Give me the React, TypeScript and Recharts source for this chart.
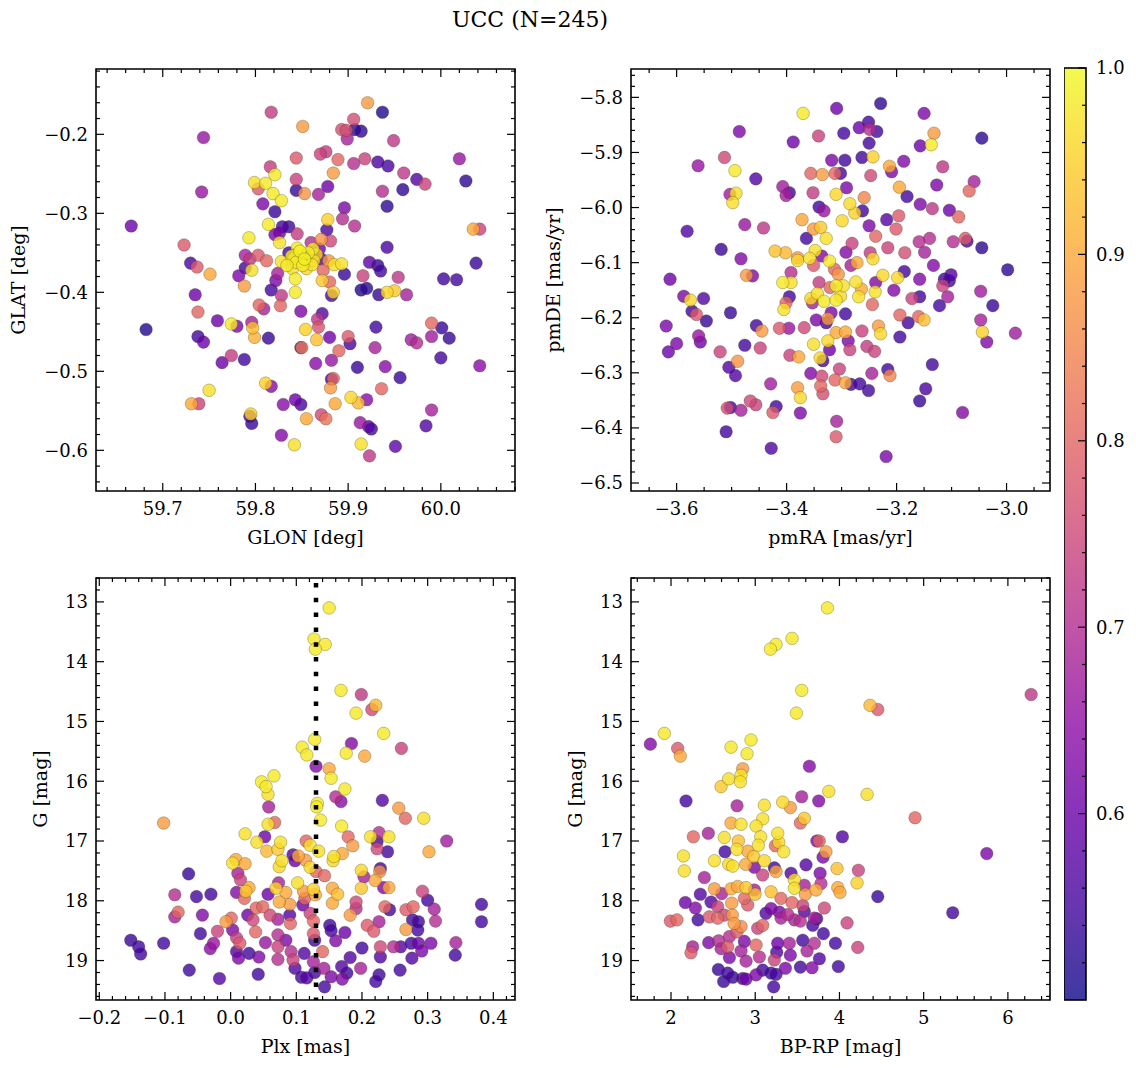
import React from 'react';
import {
  ScatterChart,
  Scatter,
  ComposedChart,
  XAxis,
  YAxis,
  ReferenceArea,
} from 'recharts';

const FONT = "'DejaVu Serif', serif";
const TICK_FS = 18;
const LABEL_FS = 19;

// GLON [deg], GLAT [deg], probability
const glonGlat = [
  [59.921,-0.160,.88],[59.937,-0.172,.52],[59.817,-0.172,.73],[59.851,-0.190,.88],[59.906,-0.181,.76],
  [59.893,-0.194,.76],[59.898,-0.195,.76],[59.907,-0.194,.53],[59.914,-0.196,.53],[59.899,-0.206,.68],
  [59.744,-0.204,.66],[59.949,-0.208,.72],[59.870,-0.225,.74],[59.876,-0.222,.73],[59.844,-0.230,.78],
  [59.889,-0.232,.80],[59.918,-0.231,.74],[59.906,-0.237,.70],[59.932,-0.235,.56],[59.943,-0.240,.56],
  [60.020,-0.231,.66],[59.816,-0.241,.73],[59.821,-0.251,.98],[59.884,-0.249,.88],[59.960,-0.249,.72],
  [59.844,-0.257,.74],[59.799,-0.261,.97],[59.811,-0.262,.98],[59.803,-0.269,.78],[59.974,-0.257,.57],
  [59.983,-0.263,.74],[60.027,-0.259,.53],[59.742,-0.273,.66],[59.844,-0.271,.54],[59.853,-0.275,.87],
  [59.868,-0.276,.68],[59.878,-0.266,.60],[59.819,-0.275,.98],[59.828,-0.284,.98],[59.937,-0.272,.70],
  [59.959,-0.270,.53],[59.808,-0.288,.62],[59.896,-0.293,.62],[59.942,-0.291,.53],[59.821,-0.298,.54],
  [59.878,-0.308,.95],[59.894,-0.307,.70],[59.666,-0.316,.60],[59.907,-0.316,.70],[59.814,-0.314,.98],
  [59.829,-0.317,.56],[59.836,-0.317,.55],[59.877,-0.321,.56],[60.035,-0.320,.90],[60.042,-0.320,.74],
  [59.845,-0.326,.73],[59.821,-0.327,.62],[59.826,-0.325,.60],[59.826,-0.337,.97],[59.793,-0.331,.98],
  [59.871,-0.333,.87],[59.881,-0.335,.75],[59.723,-0.340,.78],[59.942,-0.343,.56],
  [59.845,-0.344,.98],[59.862,-0.345,.98],[59.860,-0.337,.70],[59.839,-0.354,.98],[59.849,-0.354,.97],
  [59.858,-0.354,.60],[59.844,-0.362,.98],[59.828,-0.361,.97],[59.851,-0.366,.98],[59.863,-0.360,.97],
  [59.871,-0.358,.58],[59.836,-0.350,.55],[59.855,-0.370,.96],[59.840,-0.370,.97],
  [59.848,-0.348,.99],[59.857,-0.350,.98],[59.853,-0.358,.99],[59.866,-0.352,.96],[59.842,-0.357,.97],
  [59.834,-0.366,.98],[59.861,-0.365,.97],[59.869,-0.345,.60],
  [59.789,-0.353,.68],[59.803,-0.353,.78],[59.794,-0.358,.72],[59.812,-0.360,.80],[59.730,-0.363,.56],
  [59.737,-0.368,.78],[59.751,-0.377,.90],[59.789,-0.369,.55],[59.796,-0.372,.97],[59.879,-0.360,.88],
  [59.885,-0.365,.97],[59.893,-0.364,.97],[59.923,-0.362,.58],[59.932,-0.366,.54],[59.935,-0.373,.55],
  [60.038,-0.363,.54],[59.782,-0.379,.62],[59.824,-0.376,.68],[59.873,-0.372,.80],[59.896,-0.377,.54],
  [59.916,-0.379,.74],[59.954,-0.381,.72],[60.003,-0.383,.55],[60.017,-0.384,.55],
  [59.822,-0.385,.62],[59.843,-0.383,.98],[59.872,-0.385,.94],[59.880,-0.387,.80],[59.735,-0.403,.60],
  [59.788,-0.392,.88],[59.817,-0.397,.55],[59.828,-0.404,.72],[59.827,-0.417,.80],[59.843,-0.400,.98],
  [59.882,-0.404,.55],[59.884,-0.400,.95],[59.914,-0.397,.52],[59.920,-0.395,.53],[59.933,-0.403,.54],
  [59.942,-0.400,.96],[59.950,-0.398,.94],[59.963,-0.403,.68],[59.682,-0.447,.52],[59.738,-0.425,.80],
  [59.804,-0.416,.80],[59.809,-0.421,.68],[59.849,-0.424,.62],[59.872,-0.427,.57],[59.867,-0.434,.72],
  [59.868,-0.444,.77],[59.759,-0.436,.60],[59.774,-0.440,.98],[59.780,-0.443,.62],[59.796,-0.438,.68],
  [59.797,-0.445,.93],[59.799,-0.457,.91],[59.814,-0.458,.54],[59.854,-0.447,.95],[59.866,-0.460,.93],
  [59.880,-0.457,.60],[59.900,-0.456,.78],[59.902,-0.465,.56],[59.930,-0.444,.55],[59.738,-0.456,.55],
  [59.744,-0.463,.60],[59.849,-0.470,.55],[59.850,-0.470,.83],[59.890,-0.474,.80],[59.929,-0.470,.68],
  [59.968,-0.460,.67],[59.974,-0.464,.70],[59.990,-0.439,.80],[59.990,-0.456,.67],[60.001,-0.445,.54],
  [60.009,-0.458,.54],[60.000,-0.483,.55],[59.764,-0.489,.60],[59.774,-0.480,.73],[59.788,-0.485,.55],
  [59.865,-0.490,.64],[59.882,-0.486,.66],[59.910,-0.495,.54],[59.940,-0.494,.64],[60.042,-0.493,.64],
  [59.956,-0.508,.54],[59.882,-0.510,.55],[59.884,-0.509,.80],[59.881,-0.521,.88],[59.936,-0.522,.80],
  [59.750,-0.524,.97],[59.811,-0.515,.95],[59.817,-0.519,.64],[59.731,-0.541,.90],[59.739,-0.541,.74],
  [59.830,-0.542,.64],[59.843,-0.536,.60],[59.849,-0.542,.56],[59.886,-0.541,.90],[59.903,-0.533,.96],
  [59.911,-0.540,.92],[59.920,-0.536,.64],[59.990,-0.549,.68],[59.794,-0.557,.55],[59.795,-0.554,.95],
  [59.796,-0.566,.54],[59.855,-0.560,.90],[59.871,-0.555,.75],[59.876,-0.560,.82],[59.913,-0.565,.66],
  [59.922,-0.570,.58],[59.925,-0.573,.55],[59.984,-0.569,.57],[59.828,-0.581,.63],[59.842,-0.593,.97],
  [59.914,-0.592,.97],[59.951,-0.595,.58],[59.923,-0.607,.72],
];

// pmRA [mas/yr], pmDE [mas/yr], probability
const pmRaDe = [
  [-3.229,-5.811,.53],[-3.309,-5.820,.60],[-3.370,-5.829,.98],[-3.150,-5.829,.62],
  [-3.251,-5.845,.55],[-3.249,-5.858,.70],[-3.236,-5.862,.55],[-3.268,-5.855,.60],
  [-3.486,-5.862,.62],[-3.342,-5.870,.74],[-3.296,-5.865,.55],[-3.132,-5.865,.88],[-3.137,-5.886,.98],
  [-3.045,-5.874,.53],[-3.388,-5.881,.60],[-3.250,-5.883,.55],[-3.157,-5.888,.60],[-3.513,-5.909,.75],
  [-3.561,-5.924,.66],[-3.318,-5.914,.62],[-3.294,-5.914,.55],[-3.263,-5.909,.55],[-3.243,-5.908,.95],
  [-3.213,-5.925,.90],[-3.209,-5.935,.62],[-3.187,-5.916,.63],[-3.116,-5.926,.72],[-3.494,-5.933,.98],
  [-3.456,-5.948,.57],[-3.356,-5.938,.80],[-3.335,-5.940,.88],[-3.312,-5.938,.80],[-3.302,-5.938,.55],
  [-3.247,-5.942,.75],[-3.059,-5.953,.68],[-3.068,-5.970,.80],[-3.127,-5.959,.62],[-3.407,-5.962,.67],
  [-3.401,-5.978,.68],[-3.395,-5.973,.55],[-3.492,-5.974,.97],[-3.503,-5.976,.67],[-3.498,-5.991,.97],
  [-3.352,-5.973,.73],[-3.310,-5.976,.96],[-3.291,-5.964,.62],[-3.259,-5.982,.85],[-3.195,-5.963,.90],
  [-3.181,-5.980,.55],[-3.157,-5.994,.62],[-3.135,-6.002,.72],[-3.104,-6.005,.60],[-3.087,-6.017,.80],
  [-3.341,-5.999,.55],[-3.332,-6.006,.66],[-3.285,-5.993,.96],[-3.276,-6.010,.95],[-3.262,-6.006,.55],
  [-3.299,-6.024,.96],[-3.250,-6.033,.62],[-3.218,-6.022,.57],[-3.196,-6.015,.78],[-3.201,-6.039,.78],
  [-3.372,-6.022,.90],[-3.351,-6.039,.88],[-3.338,-6.036,.94],[-3.328,-6.056,.97],[-3.364,-6.056,.55],
  [-3.238,-6.052,.80],[-3.581,-6.043,.57],[-3.476,-6.031,.66],[-3.442,-6.037,.72],[-3.519,-6.076,.54],
  [-3.483,-6.093,.63],[-3.421,-6.079,.93],[-3.402,-6.082,.92],[-3.380,-6.091,.88],[-3.380,-6.096,.96],
  [-3.348,-6.078,.97],[-3.358,-6.092,.97],[-3.336,-6.088,.63],[-3.322,-6.097,.98],[-3.351,-6.105,.78],
  [-3.292,-6.081,.63],[-3.281,-6.065,.74],[-3.283,-6.105,.68],[-3.272,-6.100,.90],[-3.248,-6.082,.73],
  [-3.243,-6.093,.96],[-3.216,-6.073,.74],[-3.185,-6.082,.76],[-3.159,-6.062,.70],[-3.149,-6.081,.68],
  [-3.140,-6.056,.70],[-3.097,-6.062,.70],[-3.075,-6.056,.78],[-3.072,-6.061,.55],[-3.045,-6.073,.53],
  [-3.133,-6.105,.63],[-2.998,-6.113,.53],[-3.186,-6.116,.55],[-3.101,-6.122,.57],[-3.612,-6.130,.60],
  [-3.473,-6.123,.88],[-3.462,-6.124,.63],[-3.392,-6.118,.70],[-3.306,-6.121,.87],[-3.313,-6.112,.80],
  [-3.225,-6.123,.96],[-3.198,-6.127,.96],[-3.158,-6.130,.63],[-3.113,-6.130,.55],
  [-3.407,-6.136,.98],[-3.392,-6.136,.97],[-3.341,-6.136,.73],[-3.321,-6.145,.80],[-3.310,-6.142,.98],
  [-3.297,-6.142,.97],[-3.274,-6.135,.97],[-3.238,-6.136,.63],[-3.116,-6.142,.74],[-3.104,-6.133,.55],
  [-3.587,-6.161,.62],[-3.575,-6.168,.96],[-3.551,-6.165,.57],[-3.572,-6.188,.55],[-3.564,-6.194,.78],
  [-3.546,-6.206,.54],[-3.619,-6.215,.62],[-3.600,-6.247,.62],[-3.615,-6.262,.60],[-3.560,-6.233,.66],
  [-3.557,-6.244,.60],[-3.502,-6.191,.54],[-3.521,-6.262,.74],[-3.505,-6.290,.57],[-3.493,-6.305,.57],
  [-3.489,-6.279,.87],[-3.476,-6.250,.55],[-3.448,-6.255,.74],[-3.455,-6.214,.55],[-3.445,-6.224,.88],
  [-3.413,-6.219,.78],[-3.396,-6.219,.66],[-3.368,-6.218,.75],[-3.394,-6.268,.74],[-3.378,-6.271,.90],
  [-3.405,-6.185,.97],[-3.401,-6.173,.80],[-3.395,-6.162,.55],[-3.356,-6.165,.96],[-3.344,-6.156,.97],
  [-3.332,-6.170,.98],[-3.310,-6.168,.98],[-3.302,-6.161,.96],[-3.353,-6.173,.68],[-3.319,-6.191,.62],
  [-3.325,-6.202,.88],[-3.328,-6.209,.55],[-3.346,-6.204,.62],[-3.293,-6.193,.55],[-3.269,-6.162,.97],
  [-3.264,-6.148,.90],[-3.239,-6.153,.97],[-3.244,-6.176,.80],[-3.205,-6.150,.63],[-3.172,-6.165,.74],
  [-3.158,-6.162,.55],[-3.122,-6.178,.55],[-3.107,-6.162,.68],[-3.194,-6.195,.80],[-3.179,-6.209,.55],
  [-3.160,-6.198,.80],[-3.150,-6.204,.93],[-3.310,-6.227,.90],[-3.293,-6.226,.90],[-3.288,-6.242,.62],
  [-3.285,-6.258,.74],[-3.325,-6.242,.96],[-3.322,-6.258,.60],[-3.351,-6.248,.97],[-3.339,-6.273,.96],
  [-3.334,-6.278,.55],[-3.263,-6.224,.74],[-3.254,-6.252,.73],[-3.240,-6.261,.74],[-3.233,-6.215,.88],
  [-3.229,-6.229,.96],[-3.194,-6.235,.55],[-3.356,-6.301,.63],[-3.336,-6.306,.75],[-3.304,-6.293,.74],
  [-3.312,-6.313,.80],[-3.293,-6.318,.90],[-3.283,-6.321,.55],[-3.267,-6.320,.55],[-3.251,-6.332,.55],
  [-3.245,-6.301,.68],[-3.216,-6.294,.55],[-3.212,-6.305,.85],[-3.135,-6.285,.55],[-3.047,-6.204,.68],
  [-3.044,-6.226,.95],[-3.036,-6.244,.63],[-3.025,-6.178,.54],[-3.047,-6.152,.67],[-2.984,-6.228,.67],
  [-3.147,-6.329,.56],[-3.158,-6.351,.54],[-3.429,-6.320,.67],[-3.380,-6.327,.88],[-3.375,-6.345,.96],
  [-3.338,-6.324,.80],[-3.334,-6.338,.76],[-3.502,-6.363,.55],[-3.508,-6.364,.76],[-3.483,-6.368,.68],
  [-3.466,-6.351,.75],[-3.456,-6.358,.74],[-3.419,-6.361,.55],[-3.425,-6.372,.78],[-3.375,-6.373,.62],
  [-3.510,-6.407,.55],[-3.309,-6.388,.68],[-3.310,-6.416,.78],[-3.428,-6.437,.57],[-3.219,-6.452,.62],
  [-3.080,-6.372,.63],
];

// Plx [mas], G [mag], probability
const plxG = [
  [0.150,13.10,.98],[0.127,13.62,.98],[0.144,13.71,.98],[0.129,13.79,.98],[0.168,14.48,.98],
  [0.199,14.55,.72],[0.221,14.73,.92],[0.215,14.80,.75],[0.191,14.86,.98],[0.233,15.20,.98],
  [0.128,15.30,.98],[0.109,15.43,.98],[0.116,15.56,.98],[0.184,15.37,.63],[0.260,15.45,.74],
  [0.176,15.53,.98],[0.204,15.58,.90],[0.130,15.75,.63],[0.150,15.79,.90],[0.153,15.95,.98],
  [0.066,15.91,.98],[0.047,16.01,.98],[0.054,16.09,.98],[0.174,16.13,.98],
  [0.057,16.22,.97],[0.160,16.26,.70],[0.168,16.34,.64],[0.231,16.32,.57],[0.058,16.43,.68],
  [0.132,16.37,.98],[0.131,16.43,.98],[0.137,16.65,.98],[0.256,16.45,.88],[0.266,16.62,.80],
  [0.294,16.62,.97],[-0.102,16.70,.88],[0.057,16.72,.97],[0.067,16.69,.80],[0.169,16.75,.98],
  [0.022,16.88,.97],[0.040,17.02,.97],[0.052,16.93,.60],[0.076,17.02,.97],[0.072,17.14,.94],
  [0.055,17.17,.92],[0.115,17.00,.80],[0.121,17.07,.97],[0.134,17.17,.97],[0.179,16.93,.80],
  [0.186,17.08,.88],[0.170,17.21,.90],[0.157,17.26,.97],[0.156,17.33,.96],[0.213,16.93,.97],
  [0.226,16.86,.70],[0.223,17.01,.55],[0.223,17.13,.75],[0.241,16.93,.97],[0.239,17.18,.55],
  [0.302,17.18,.90],[0.329,17.00,.67],[0.095,17.23,.57],[0.103,17.25,.90],[0.098,17.33,.60],
  [0.114,17.32,.88],[0.121,17.44,.96],[0.003,17.37,.97],[0.008,17.31,.90],[0.022,17.38,.90],
  [0.078,17.33,.97],[0.074,17.43,.96],[0.011,17.54,.68],[0.015,17.65,.74],[-0.064,17.55,.54],
  [0.130,17.51,.80],[0.143,17.58,.80],[0.199,17.49,.96],[0.203,17.60,.68],[0.228,17.46,.55],
  [0.227,17.51,.87],[0.220,17.66,.90],[0.233,17.78,.63],[0.241,17.78,.90],[0.199,17.79,.94],
  [0.102,17.70,.97],[0.073,17.70,.68],[0.069,17.79,.95],[0.028,17.78,.90],[0.023,17.84,.94],
  [0.009,17.86,.63],[0.057,17.89,.60],[0.084,17.86,.90],[0.111,17.84,.88],[0.126,17.81,.95],
  [0.129,17.90,.90],[0.155,17.79,.90],[0.163,17.89,.93],[0.155,18.04,.90],[-0.085,17.90,.70],
  [-0.052,17.93,.55],[-0.030,17.89,.55],[0.021,17.96,.80],[0.074,18.02,.90],[0.090,18.06,.88],
  [0.292,17.84,.74],[0.300,17.99,.55],[0.310,18.14,.68],[0.312,18.34,.70],[0.382,18.06,.55],
  [0.382,18.35,.55],[0.191,18.02,.75],[0.191,18.13,.70],[0.182,18.24,.88],[0.235,18.10,.80],
  [0.242,18.15,.55],[0.267,18.15,.78],[0.278,18.10,.80],[0.277,18.32,.55],[0.286,18.35,.55],
  [0.267,18.48,.88],[0.285,18.49,.55],[0.110,18.07,.60],[0.113,17.96,.80],[0.039,18.12,.80],
  [0.049,18.10,.80],[0.060,18.24,.75],[0.072,18.31,.68],[0.090,18.24,.57],[0.091,18.38,.80],
  [0.026,18.24,.60],[0.034,18.32,.75],[-0.007,18.35,.88],[0.001,18.29,.80],[0.121,18.21,.74],
  [0.126,18.34,.80],[0.151,18.41,.55],[0.153,18.50,.55],[-0.043,18.24,.63],[-0.085,18.27,.68],
  [-0.080,18.19,.80],[-0.046,18.55,.55],[-0.020,18.51,.74],[0.003,18.49,.62],[0.038,18.52,.80],
  [0.174,18.53,.60],[0.208,18.41,.78],[0.218,18.51,.78],[0.226,18.35,.68],[-0.152,18.66,.54],
  [-0.140,18.77,.55],[-0.137,18.89,.55],[-0.102,18.71,.55],[-0.026,18.71,.66],[-0.031,18.80,.64],
  [0.009,18.62,.73],[0.014,18.71,.78],[0.009,18.85,.57],[0.012,18.96,.62],[0.028,18.88,.55],
  [0.043,18.94,.63],[0.053,18.70,.66],[0.072,18.57,.70],[0.072,18.77,.74],[0.072,18.98,.70],
  [0.084,18.66,.62],[0.092,18.85,.70],[0.095,18.99,.74],[0.112,18.88,.57],[0.126,19.02,.68],
  [0.126,18.55,.78],[0.128,18.66,.55],[0.140,18.85,.80],[0.142,19.13,.68],[0.160,18.67,.63],
  [0.169,19.10,.57],[0.177,19.21,.55],[0.170,19.31,.63],[0.153,19.27,.62],[0.182,18.95,.57],
  [0.198,19.13,.68],[0.200,18.79,.55],[0.228,18.77,.75],[0.228,18.94,.57],[0.226,19.24,.55],
  [0.221,19.35,.55],[0.248,18.77,.70],[0.259,18.77,.57],[0.275,18.71,.55],[0.286,18.71,.60],
  [0.291,18.84,.62],[0.305,18.71,.62],[0.276,18.96,.57],[0.258,19.16,.55],[0.342,18.91,.55],
  [0.343,18.70,.68],[-0.063,19.16,.55],[-0.017,19.30,.57],[0.042,19.23,.55],[0.098,19.13,.57],
  [0.108,19.28,.55],[0.116,19.29,.57],[0.128,19.20,.55],[0.143,19.44,.55],
];

// BP-RP [mag], G [mag], probability
const colorG = [
  [3.857,13.10,.98],[3.437,13.61,.98],[3.247,13.71,.98],[3.180,13.79,.98],[3.552,14.48,.98],
  [6.276,14.55,.72],[4.363,14.73,.92],[4.455,14.80,.78],[3.489,14.86,.98],[1.921,15.20,.98],
  [1.755,15.38,.63],[2.079,15.45,.78],[2.111,15.58,.90],[2.713,15.43,.98],[2.950,15.31,.98],
  [2.903,15.54,.98],[3.643,15.75,.63],[2.851,15.79,.88],[2.831,15.90,.97],[2.685,15.96,.97],
  [2.823,16.01,.97],[2.594,16.09,.94],
  [2.178,16.33,.55],[2.784,16.41,.68],[3.108,16.40,.97],[3.326,16.35,.96],[3.417,16.44,.88],
  [3.552,16.26,.68],[3.754,16.33,.63],[3.873,16.17,.97],[4.328,16.22,.97],
  [2.713,16.70,.90],[2.831,16.72,.97],[3.089,16.63,.97],[3.010,16.75,.97],[3.536,16.70,.80],
  [3.583,16.62,.94],[4.898,16.61,.80],[2.265,16.93,.80],[2.443,16.87,.68],[2.633,16.94,.97],
  [2.800,17.00,.93],[2.780,17.14,.97],[2.641,17.18,.55],[3.065,16.93,.97],[3.037,17.07,.97],
  [2.911,17.17,.90],[2.982,17.26,.94],[3.108,17.33,.96],[3.267,16.87,.97],[3.279,17.02,.96],
  [3.338,17.18,.97],[3.239,17.08,.80],[3.732,17.00,.63],[3.760,17.00,.80],[3.840,17.18,.88],
  [3.805,17.27,.62],[4.035,16.93,.57],[2.147,17.25,.97],[2.158,17.50,.97],[2.515,17.33,.97],
  [2.685,17.39,.96],[2.733,17.42,.97],[2.887,17.39,.90],[2.990,17.44,.62],[3.089,17.57,.74],
  [3.227,17.45,.55],[3.247,17.51,.90],[3.425,17.54,.57],[3.603,17.40,.57],[3.770,17.54,.62],
  [3.971,17.46,.93],[4.225,17.49,.74],[4.209,17.70,.95],[2.396,17.61,.68],[2.348,17.89,.57],
  [2.170,18.03,.60],[2.289,18.12,.63],[2.515,17.80,.88],[2.602,17.88,.68],[2.713,17.80,.90],
  [2.792,17.76,.90],[2.891,17.78,.94],[2.998,17.89,.93],[3.188,17.85,.93],[3.306,17.96,.80],
  [3.465,17.65,.97],[3.465,17.79,.97],[3.595,17.89,.88],[3.722,17.82,.90],[3.583,17.74,.68],
  [3.781,17.71,.70],[3.980,17.78,.90],[4.007,17.86,.90],[4.455,17.93,.54],[2.321,18.32,.55],
  [1.992,18.34,.78],[2.071,18.32,.80],[2.475,18.02,.57],[2.554,18.10,.74],[2.455,18.27,.78],
  [2.554,18.29,.80],[2.633,18.24,.75],[2.721,18.04,.88],[2.729,18.24,.88],[2.749,18.38,.88],
  [2.871,17.96,.80],[2.911,18.07,.78],[2.990,17.82,.68],[3.089,18.41,.80],[3.030,18.46,.74],
  [3.128,18.21,.57],[3.188,18.13,.62],[3.287,18.19,.62],[3.306,18.29,.68],[3.386,18.23,.70],
  [3.465,18.32,.68],[3.564,18.08,.74],[3.437,18.03,.80],[3.583,18.18,.57],[3.536,18.34,.70],
  [3.702,18.29,.68],[3.730,18.30,.55],[3.683,18.41,.55],[3.821,18.12,.75],[3.809,18.55,.55],
  [4.090,18.37,.74],[3.952,18.71,.55],[4.217,18.78,.74],[2.257,18.77,.68],[2.237,18.87,.78],
  [2.447,18.70,.62],[2.566,18.67,.70],[2.594,18.80,.68],[2.693,18.60,.70],[2.784,18.52,.78],
  [2.831,18.43,.86],[2.673,18.77,.78],[2.871,18.68,.62],[2.831,18.84,.68],[3.010,18.74,.80],
  [2.693,18.95,.62],[2.891,19.01,.68],[3.049,18.94,.70],[3.267,18.71,.60],[3.405,18.71,.68],
  [3.564,18.66,.55],[3.702,18.71,.70],[3.615,18.84,.68],[3.255,18.86,.57],[3.227,18.99,.74],
  [3.417,18.91,.62],[3.762,18.97,.57],[3.536,19.11,.55],[3.675,19.12,.63],[3.358,19.13,.62],
  [3.987,19.10,.55],[2.562,19.15,.54],[2.673,19.21,.55],[2.625,19.35,.54],[2.733,19.28,.54],
  [2.851,19.30,.57],[2.891,19.31,.60],[3.010,19.24,.62],[3.089,19.16,.55],[3.188,19.21,.55],
  [3.247,19.23,.55],[3.219,19.44,.55],[5.345,18.20,.55],[5.749,17.21,.62],
];

const glonTicks = [59.7, 59.8, 59.9, 60.0];
const glatTicks = [-0.6, -0.5, -0.4, -0.3, -0.2];
const pmraTicks = [-3.6, -3.4, -3.2, -3.0];
const pmdeTicks = [-6.5, -6.4, -6.3, -6.2, -6.1, -6.0, -5.9, -5.8];
const plxTicks = [-0.2, -0.1, 0.0, 0.1, 0.2, 0.3, 0.4];
const gTicks = [13, 14, 15, 16, 17, 18, 19];
const bprpTicks = [2, 3, 4, 5, 6];
const probTicks = [0.6, 0.7, 0.8, 0.9, 1.0];
const PLX_MEAN = 0.13;

const PLASMA = ['#0d0887', '#41049d', '#6a00a8', '#8f0da4', '#b12a90', '#cc4778',
  '#e16462', '#f2844b', '#fca636', '#fcce25', '#f0f921'];

function plasma(t: number) {
  const c = Math.min(1, Math.max(0, t)) * (PLASMA.length - 1);
  const i = Math.min(PLASMA.length - 2, Math.floor(c));
  const f = c - i;
  const a = PLASMA[i], b = PLASMA[i + 1];
  const ch = (h: string, k: number) => parseInt(h.slice(1 + 2 * k, 3 + 2 * k), 16);
  const mix = [0, 1, 2].map((k) => Math.round(ch(a, k) + (ch(b, k) - ch(a, k)) * f));
  return `rgb(${mix[0]},${mix[1]},${mix[2]})`;
}
const probColor = (p: number) => plasma((p - 0.5) / 0.5);

function tickList(step: number, lo: number, hi: number) {
  const out: number[] = [];
  const n0 = Math.ceil(lo / step - 1e-6);
  const n1 = Math.floor(hi / step + 1e-6);
  for (let i = n0; i <= n1; i++) out.push(+(i * step).toFixed(4));
  return out;
}
const isMajor = (majors: number[], v: number) => majors.some((m) => Math.abs(m - v) < 1e-6);
const fmt = (d: number) => (v: number) => (v < -1e-9 ? '\u2212' : '') + Math.abs(v).toFixed(d);

const PW = 419, PH = 422, ML = 100, MT = 12, MR = 12, MB = 70;

const txt = { fontFamily: FONT, fill: '#000' };

function Panel(props: any) {
  const { rows, left, top, xDomain, yDomain, xMajor, xStep, yMajor, yStep, xDec, yDec,
    xLabel, yLabel, yLabelX, reversed, vline } = props;
  const data = rows.map(([x, y, p]: number[]) => ({ x, y, p })).sort((a: any, b: any) => a.p - b.p);
  const xt = tickList(xStep, xDomain[0], xDomain[1]);
  const yt = tickList(yStep, yDomain[0], yDomain[1]);
  const pb = MT + PH;
  const pr = ML + PW;
  const fx = fmt(xDec);
  const fy = fmt(yDec);

  const xTick = (tp: any) => {
    const v = tp.payload.value;
    const cx = tp.x;
    const major = isMajor(xMajor, v);
    const len = major ? 8 : 4;
    return (
      <g>
        <line x1={cx} x2={cx} y1={pb} y2={pb - len} stroke="#000" strokeWidth={1.2} />
        <line x1={cx} x2={cx} y1={MT} y2={MT + len} stroke="#000" strokeWidth={1.2} />
        {major && (
          <text x={cx} y={pb + 24} textAnchor="middle" fontSize={TICK_FS} {...txt}>{fx(v)}</text>
        )}
      </g>
    );
  };
  const yTick = (tp: any) => {
    const v = tp.payload.value;
    const cy = tp.y;
    const major = isMajor(yMajor, v);
    const len = major ? 8 : 4;
    return (
      <g>
        <line x1={ML} x2={ML + len} y1={cy} y2={cy} stroke="#000" strokeWidth={1.2} />
        <line x1={pr} x2={pr - len} y1={cy} y2={cy} stroke="#000" strokeWidth={1.2} />
        {major && (
          <text x={ML - 8} y={cy} dy="0.35em" textAnchor="end" fontSize={TICK_FS} {...txt}>{fy(v)}</text>
        )}
      </g>
    );
  };
  const dot = (sp: any) => (
    <circle cx={sp.cx} cy={sp.cy} r={6.3} fill={probColor(sp.payload.p)} fillOpacity={0.8}
      stroke="#3a3a1a" strokeOpacity={0.5} strokeWidth={0.6} />
  );
  // the vertical dotted line is a two-point series, so it is drawn above the stars
  const vlineData = vline !== undefined
    ? [{ x: vline, y: reversed ? yDomain[0] : yDomain[1] }, { x: vline, y: reversed ? yDomain[1] : yDomain[0] }]
    : [];

  return (
    <div style={{ position: 'absolute', left: left - ML, top: top - MT }}>
      <ScatterChart width={ML + PW + MR} height={MT + PH + MB} margin={{ top: MT, right: MR, bottom: 0, left: 0 }}>
        <XAxis type="number" dataKey="x" domain={xDomain} allowDataOverflow ticks={xt} interval={0}
          tick={xTick} tickLine={false} axisLine={false} height={MB}
          label={{
            content: () => (
              <text x={ML + PW / 2} y={pb + 53} textAnchor="middle" fontSize={LABEL_FS} {...txt}>{xLabel}</text>
            ),
          }} />
        <YAxis type="number" dataKey="y" domain={yDomain} reversed={reversed} allowDataOverflow ticks={yt}
          interval={0} tick={yTick} tickLine={false} axisLine={false} width={ML}
          label={{
            content: () => (
              <text x={yLabelX} y={MT + PH / 2} dy="0.35em" textAnchor="middle" fontSize={LABEL_FS}
                transform={`rotate(-90, ${yLabelX}, ${MT + PH / 2})`} {...txt}>{yLabel}</text>
            ),
          }} />
        <Scatter data={data} isAnimationActive={false} shape={dot} />
        {vline !== undefined && (
          <Scatter data={vlineData} isAnimationActive={false} shape={() => <g />}
            line={{ stroke: '#000', strokeWidth: 4.5, strokeDasharray: '4.5 10.3', strokeDashoffset: -5 }} />
        )}
        <ReferenceArea x1={xDomain[0]} x2={xDomain[1]} y1={yDomain[0]} y2={yDomain[1]}
          fill="none" stroke="#000" strokeWidth={1.6} ifOverflow="visible" />
      </ScatterChart>
    </div>
  );
}

const CB_W = 22, CB_H = 932, CB_AX = 60;

function Colorbar({ left, top }: { left: number; top: number }) {
  const ticks = tickList(0.02, 0.5, 1.0).filter((v) => v > 0.505);
  const tick = (tp: any) => {
    const v = tp.payload.value;
    const cy = tp.y;
    const major = isMajor(probTicks, v);
    const len = major ? 8 : 4;
    return (
      <g>
        <line x1={CB_W} x2={CB_W - len} y1={cy} y2={cy} stroke="#000" strokeWidth={1.2} />
        {major && (
          <text x={CB_W + 10} y={cy} dy="0.35em" textAnchor="start" fontSize={TICK_FS} {...txt}>
            {v.toFixed(1)}
          </text>
        )}
      </g>
    );
  };
  const bar = (sp: any) => (
    <g>
      <defs>
        <linearGradient id="plasmaBar" x1="0" y1="1" x2="0" y2="0">
          {PLASMA.map((c, i) => (
            <stop key={i} offset={`${(i / (PLASMA.length - 1)) * 100}%`} stopColor={c} />
          ))}
        </linearGradient>
      </defs>
      <rect x={sp.x} y={sp.y} width={sp.width} height={sp.height} fill="url(#plasmaBar)" fillOpacity={0.8} />
      <rect x={sp.x} y={sp.y} width={sp.width} height={sp.height} fill="none" stroke="#000" strokeWidth={1.6} />
    </g>
  );
  return (
    <div style={{ position: 'absolute', left, top: top - MT }}>
      <ComposedChart width={CB_W + CB_AX} height={CB_H + 2 * MT} data={[{ x: 0, y: 0.5 }, { x: 1, y: 1 }]}
        margin={{ top: MT, right: 0, bottom: MT, left: 0 }}>
        <XAxis type="number" dataKey="x" domain={[0, 1]} hide />
        <YAxis type="number" dataKey="y" orientation="right" domain={[0.5, 1.0]} allowDataOverflow
          ticks={ticks} interval={0} tick={tick} tickLine={false} axisLine={false} width={CB_AX} />
        <ReferenceArea x1={0} x2={1} y1={0.5} y2={1.0} ifOverflow="visible" shape={bar} />
      </ComposedChart>
    </div>
  );
}

export default function App() {
  return (
    <div style={{ position: 'absolute', left: 0, top: 0, width: 1136, height: 1068, background: '#fff' }}>
      <div style={{
        position: 'absolute', left: 330, top: 8, width: 400, textAlign: 'center',
        fontFamily: FONT, fontSize: 22, lineHeight: '24px', color: '#000',
      }}>
        UCC (N=245)
      </div>
      <Panel rows={glonGlat} left={96} top={69} xDomain={[59.628, 60.08]} yDomain={[-0.6515, -0.1173]}
        xMajor={glonTicks} xStep={0.02} yMajor={glatTicks} yStep={0.02} xDec={1} yDec={1}
        xLabel="GLON [deg]" yLabel="GLAT [deg]" yLabelX={ML - 78} />
      <Panel rows={pmRaDe} left={631} top={69} xDomain={[-3.683, -2.921]} yDomain={[-6.5145, -5.7485]}
        xMajor={pmraTicks} xStep={0.05} yMajor={pmdeTicks} yStep={0.02} xDec={1} yDec={1}
        xLabel="pmRA [mas/yr]" yLabel="pmDE [mas/yr]" yLabelX={ML - 78} />
      <Panel rows={plxG} left={96} top={578} xDomain={[-0.205, 0.433]} yDomain={[12.6, 19.66]} reversed
        xMajor={plxTicks} xStep={0.02} yMajor={gTicks} yStep={0.2} xDec={1} yDec={0}
        xLabel="Plx [mas]" yLabel="G [mag]" yLabelX={ML - 56} vline={PLX_MEAN} />
      <Panel rows={colorG} left={631} top={578} xDomain={[1.525, 6.5]} yDomain={[12.6, 19.66]} reversed
        xMajor={bprpTicks} xStep={0.2} yMajor={gTicks} yStep={0.2} xDec={0} yDec={0}
        xLabel="BP-RP [mag]" yLabel="G [mag]" yLabelX={ML - 56} />
      <Colorbar left={1064} top={68} />
    </div>
  );
}
